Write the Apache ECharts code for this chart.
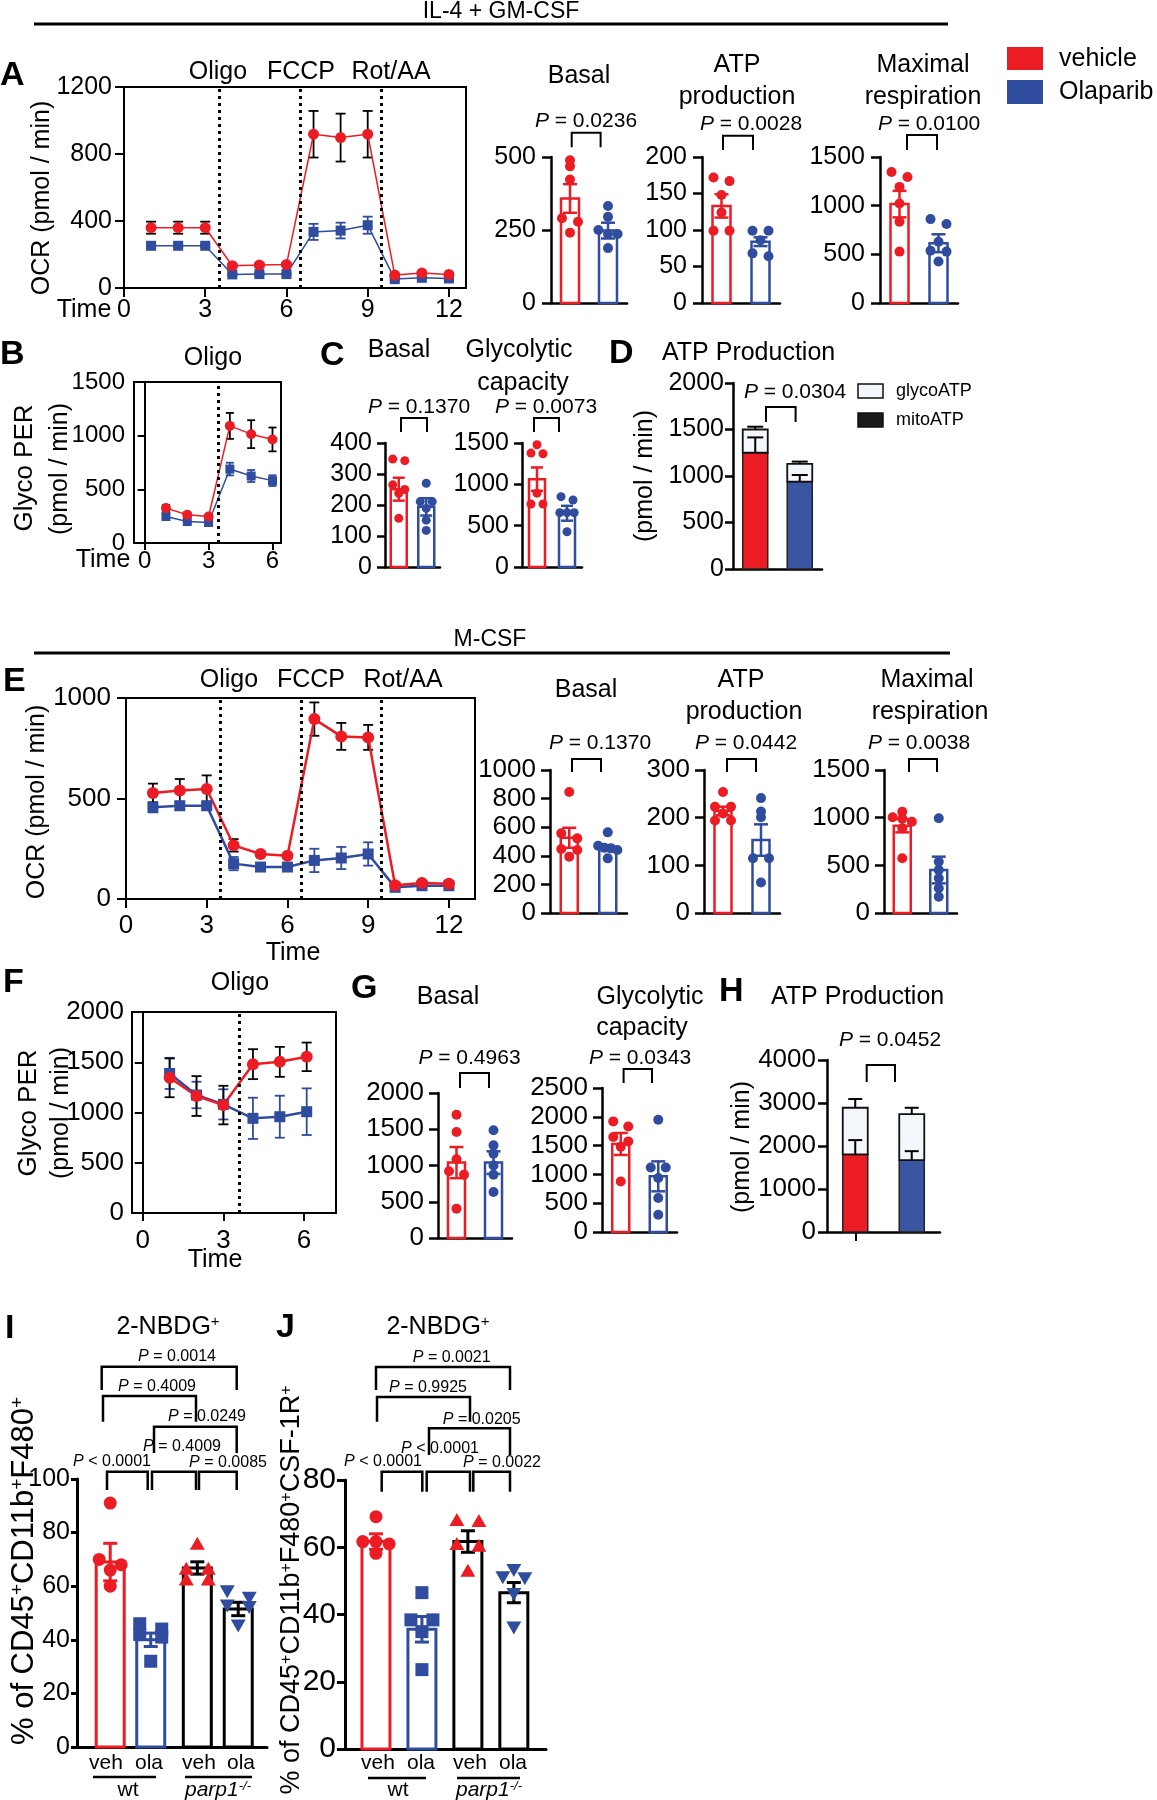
<!DOCTYPE html>
<html><head><meta charset="utf-8">
<script src="https://cdn.jsdelivr.net/npm/echarts@6/dist/echarts.min.js"></script>
<style>html,body{margin:0;padding:0;background:#fff}#c{width:1157px;height:1800px}</style>
</head><body><div id="c"></div>
<script>
// ================= DATA =================
const CATS = ['vehicle', 'Olaparib'];
// A: OCR, IL-4 + GM-CSF
const timeA = [1,2,3,4,5,6,7,8,9,10,11,12];
const ocrA_veh = [360,360,360,133,137,140,918,898,918,77,89,81];
const ocrA_veh_sem = [36,36,36,10,10,10,139,143,139,8,8,8];
const ocrA_ola = [252,252,252,81,83,83,335,343,375,53,61,57];
const ocrA_ola_sem = [8,8,8,6,6,6,48,47,51,6,6,6];
const basalA_veh = [489,468,423,290,278,241];
const basalA_ola = [332,295,250,236,236,188];
const basalA_mean = [358,248], basalA_sem = [49,27];
const atpA_veh = [172,167,148,124,99,99];
const atpA_ola = [99,99,86,68,64];
const atpA_mean = [133,84], atpA_sem = [16,6];
const maxA_veh = [1346,1295,1193,1023,835,528];
const maxA_ola = [862,811,630,538,528,426];
const maxA_mean = [1016,614], maxA_sem = [136,92];
// B: glyco PER
const timeB = [1,2,3,4,5,6];
const perB_veh = [325,263,247,1091,1014,965];
const perB_veh_sem = [30,21,10,121,130,111];
const perB_ola = [247,200,191,689,624,581];
const perB_ola_sem = [15,10,10,59,56,50];
// C
const basalC_veh = [348,343,265,250,238,157];
const basalC_ola = [270,211,211,189,151,118];
const basalC_mean = [251,194], basalC_sem = [37,28];
const glycC_veh = [1479,1378,1370,893,762,762];
const glycC_ola = [851,811,657,657,657,426];
const glycC_mean = [1063,650], glycC_sem = [141,90];
// D: ATP production (stacked)
const atpD_mito = [1250,939], atpD_mito_sem = [165,72];
const atpD_glyco = [250,191], atpD_total_sem = [30,25];
// E: OCR, M-CSF
const timeE = [1,2,3,4,5,6,7,8,9,10,11,12];
const ocrE_veh = [527,540,547,267,224,215,895,809,804,68,80,76];
const ocrE_veh_sem = [47,57,68,31,12,10,83,67,62,6,6,6];
const ocrE_ola = [456,464,464,176,159,159,192,204,224,58,66,66];
const ocrE_ola_sem = [25,20,20,33,15,15,58,55,58,6,6,6];
const basalE_veh = [846,557,522,447,440,394];
const basalE_ola = [564,470,456,452,440,382];
const basalE_mean = [526,452], basalE_sem = [70,18];
const atpE_veh = [254,223,223,209,194,194];
const atpE_ola = [241,213,201,115,115,64];
const atpE_mean = [214,153], atpE_sem = [9,33];
const maxE_veh = [1063,1004,990,958,888,574];
const maxE_ola = [993,538,450,364,259,171];
const maxE_mean = [916,451], maxE_sem = [70,140];
// F
const timeF = [1,2,3,4.1,5.1,6.1];
const perF_veh = [1345,1164,1074,1481,1504,1554];
const perF_veh_sem = [193,198,192,149,149,142];
const perF_ola = [1389,1174,1081,942,958,1008];
const perF_ola_sem = [155,132,150,205,209,232];
// G
const basalG_veh = [1701,1462,1085,920,874,405];
const basalG_ola = [1485,1278,1164,1000,874,634];
const basalG_mean = [1040,1040], basalG_sem = [215,156];
const glycG_veh = [1920,1833,1650,1573,1480,878];
const glycG_ola = [1950,1121,1121,938,590,300];
const glycG_mean = [1528,966], glycG_sem = [191,260];
// H
const atpH_mito = [1803,1671], atpH_mito_sem = [334,209];
const atpH_glyco = [1086,1071], atpH_total_sem = [203,147];
// I: 2-NBDG+ % of CD45+CD11b+F480+
const groupsIJ = ['veh','ola','veh','ola'];
const nbdgI_wt_veh = [91,70,68,66,60];
const nbdgI_wt_ola = [46,44,42,41,32];
const nbdgI_ko_veh = [75.5,66.2,66.2,62.2,62.2];
const nbdgI_ko_ola = [58.4,56,53.1,52.5,45.6];
const nbdgI_mean = [69,40,66.8,51.5], nbdgI_sem = [7,2.5,2.3,2.5];
// J: 2-NBDG+ % of CD45+CD11b+F480+CSF-1R+
const nbdgJ_wt_veh = [69.1,61.7,61.7,61,58.2];
const nbdgJ_wt_ola = [46.5,38.4,38.4,34.9,23.6];
const nbdgJ_ko_veh = [67.9,67.6,60.7,60.2,52.8];
const nbdgJ_ko_ola = [53.5,51.3,51,46.3,36.4];
const nbdgJ_mean = [61.7,35.6,61.7,46.5], nbdgJ_sem = [2.3,3.8,3.2,3];

// ================= STYLE / HELPERS =================
const FONT = '"Liberation Sans", Arial, Helvetica, sans-serif';
const RED = '#ec1c24', BLUE = '#2f4c9e', BLUEF = '#3a56a2', GLY = '#f3f6fa';
const grids = [], xAxes = [], yAxes = [], series = [], graphics = [];
const plain = v => String(v);

function addGrid(l,t,w,h,box){
  grids.push({left:l,top:t,width:w,height:h,show:!!box,borderColor:'#000',borderWidth:box?2:0,backgroundColor:'rgba(0,0,0,0)'});
  return grids.length-1;
}
function yAx(g,max,int,fs,margin,lw,tl){
  return {gridIndex:g,type:'value',min:0,max:max,interval:int,
    axisLine:{show:true,lineStyle:{color:'#000',width:lw}},
    axisTick:{show:true,length:tl,lineStyle:{color:'#000',width:lw}},
    axisLabel:{color:'#000',fontSize:fs,fontFamily:FONT,margin:margin,formatter:plain},
    splitLine:{show:false}};
}
function errSeries(g,xs,m,s,color,cap,lw,both,z){
  return {type:'custom',xAxisIndex:g,yAxisIndex:g,z:z,silent:true,
    data:xs.map((x,i)=>[x,m[i],s[i]]),
    renderItem(p,api){
      const x=api.value(0),y=api.value(1),e=api.value(2);
      const t=api.coord([x,y+e]), b=api.coord([x,both?y-e:y]);
      const st={stroke:color,lineWidth:lw};
      const ch=[{type:'line',shape:{x1:t[0],y1:t[1],x2:b[0],y2:b[1]},style:st},
                {type:'line',shape:{x1:t[0]-cap,y1:t[1],x2:t[0]+cap,y2:t[1]},style:st}];
      if(both) ch.push({type:'line',shape:{x1:b[0]-cap,y1:b[1],x2:b[0]+cap,y2:b[1]},style:st});
      return {type:'group',children:ch};
    }};
}
function rectSeries(g,x,lo,hi,w,fill,stroke,lw,z){
  return {type:'custom',xAxisIndex:g,yAxisIndex:g,z:z,silent:true,data:[[x,lo,hi]],
    renderItem(p,api){
      const a=api.coord([api.value(0),api.value(1)]), b=api.coord([api.value(0),api.value(2)]);
      return {type:'rect',shape:{x:a[0]-w/2,y:b[1],width:w,height:a[1]-b[1]},style:{fill:fill,stroke:stroke,lineWidth:lw}};
    }};
}
function swarm(vals,d,spread,ppu){
  const idx=vals.map((v,i)=>i).sort((a,b)=>vals[b]-vals[a]);
  const out=new Array(vals.length).fill(0);
  let row=[],rowY=null;
  const flush=()=>{const n=row.length; if(!n) return; const step=n>1?Math.min(spread,spread*1.2/(n-1)):0;
    row.forEach((k,j)=>{out[k]=(j-(n-1)/2)*step;}); row=[];};
  idx.forEach(k=>{const y=vals[k]*ppu; if(rowY===null||rowY-y>0.55*d){flush();rowY=y;} row.push(k);});
  flush();
  return out;
}
function marker(shape,x,y,d,color){
  const r=d/2;
  if(shape==='circle') return {type:'circle',shape:{cx:x,cy:y,r:r},style:{fill:color}};
  if(shape==='square') return {type:'rect',shape:{x:x-r,y:y-r,width:d,height:d},style:{fill:color}};
  if(shape==='up') return {type:'polygon',shape:{points:[[x,y-r*1.2],[x+r*1.15,y+r*0.8],[x-r*1.15,y+r*0.8]]},style:{fill:color}};
  return {type:'polygon',shape:{points:[[x,y+r*1.2],[x+r*1.15,y-r*0.8],[x-r*1.15,y-r*0.8]]},style:{fill:color}};
}
function pointsSeries(g,x,vals,color,shape,d,spread,ppu){
  const jit=swarm(vals,d,spread,ppu);
  return {type:'custom',xAxisIndex:g,yAxisIndex:g,z:5,silent:true,
    data:vals.map((v,i)=>[x,v,jit[i]]),
    renderItem(p,api){const c=api.coord([api.value(0),api.value(1)]); return marker(shape,c[0]+api.value(2),c[1],d,color);}};
}
function linePanel(o){
  const g=addGrid(o.l,o.t,o.w,o.h,true);
  xAxes.push({gridIndex:g,type:'value',min:o.xMin,max:o.xMax,
    axisLine:{show:true,onZero:false,lineStyle:{color:'#000',width:2}},
    axisTick:{show:true,customValues:o.xTicks,length:o.tl,lineStyle:{color:'#000',width:2}},
    axisLabel:{show:true,customValues:o.xTicks,color:'#000',fontSize:o.fs,fontFamily:FONT,margin:o.xm,formatter:plain},
    splitLine:{show:false}});
  yAxes.push(yAx(g,o.yMax,o.yInt,o.fs,o.ym,2,o.tl));
  series.push(errSeries(g,o.times,o.ola,o.olaSem,BLUE,o.cap,1.8,true,2));
  series.push(errSeries(g,o.times,o.veh,o.vehSem,'#000',o.cap,1.8,true,2));
  series.push({type:'line',xAxisIndex:g,yAxisIndex:g,z:3,silent:true,
    data:o.times.map((t,i)=>[t,o.ola[i]]),symbol:'rect',symbolSize:o.ms,showAllSymbol:true,
    itemStyle:{color:BLUE},lineStyle:{color:BLUE,width:o.lw},
    markLine:{silent:true,symbol:['none','none'],label:{show:false},
      lineStyle:{color:'#000',width:3,type:[3,4]},data:o.inj.map(v=>({xAxis:v}))}});
  series.push({type:'line',xAxisIndex:g,yAxisIndex:g,z:3,silent:true,
    data:o.times.map((t,i)=>[t,o.veh[i]]),symbol:'circle',symbolSize:o.ms+1,showAllSymbol:true,
    itemStyle:{color:RED},lineStyle:{color:RED,width:o.lw}});
}
function barPanel(o){
  const g=addGrid(o.l,o.t,o.w,o.h,false);
  const isVal=!!o.pos;
  xAxes.push(isVal?{gridIndex:g,type:'value',min:o.xMin,max:o.xMax,
      axisLine:{show:true,onZero:false,lineStyle:{color:'#000',width:o.alw}},axisTick:{show:false},axisLabel:{show:false},splitLine:{show:false}}
    :{gridIndex:g,type:'category',data:o.cats,boundaryGap:true,
      axisLine:{show:true,lineStyle:{color:'#000',width:o.alw}},axisTick:{show:false},axisLabel:{show:false},splitLine:{show:false}});
  yAxes.push(yAx(g,o.yMax,o.yInt,o.fs,o.ym,o.alw,o.tl));
  const ppu=o.h/o.yMax;
  o.groups.forEach((gr,i)=>{
    const x=isVal?o.pos[i]:i;
    series.push(rectSeries(g,x,0,gr.mean,o.bw,'#fff',gr.color,o.blw,1));
    series.push(errSeries(g,[x],[gr.mean],[gr.sem],gr.color,o.cap,o.blw,true,4));
    series.push(pointsSeries(g,x,gr.vals,gr.pc||gr.color,gr.shape,o.d,o.spread,ppu));
  });
}
function stackPanel(o){
  const g=addGrid(o.l,o.t,o.w,o.h,false);
  xAxes.push({gridIndex:g,type:'category',data:CATS,boundaryGap:true,
    axisLine:{show:true,lineStyle:{color:'#000',width:2.5}},
    axisTick:{show:!!o.xTick,alignWithLabel:true,length:9,lineStyle:{color:'#000',width:2}},
    axisLabel:{show:false},splitLine:{show:false}});
  yAxes.push(yAx(g,o.yMax,o.yInt,o.fs,o.ym,2.5,o.tl));
  const cols=[RED,BLUEF];
  for(let i=0;i<2;i++){
    const tot=o.mito[i]+o.glyco[i];
    series.push(rectSeries(g,i,0,o.mito[i],o.bw,cols[i],'#222',1.5,1));
    series.push(rectSeries(g,i,o.mito[i],tot,o.bw,GLY,'#111',1.8,1));
    series.push(errSeries(g,[i],[o.mito[i]],[o.mitoSem[i]],'#000',o.cap,2,false,4));
    series.push(errSeries(g,[i],[tot],[o.totSem[i]],'#000',o.cap,2,false,4));
  }
}
function pair(veh,ola,mean,sem){
  return [{vals:veh,mean:mean[0],sem:sem[0],color:RED,shape:'circle'},
          {vals:ola,mean:mean[1],sem:sem[1],color:BLUE,shape:'circle'}];
}
// ---- graphic helpers
function sup(sz){ return {fontSize:sz,verticalAlign:'top',fill:'#000',fontFamily:FONT}; }
function txt(x,y,text,size,opt){
  opt=opt||{};
  graphics.push({type:'text',x:x,y:y,rotation:opt.rot||0,z:100,silent:true,
    style:{text:text,fill:'#000',fontSize:size,fontFamily:FONT,fontWeight:opt.bold?'bold':'normal',
      fontStyle:opt.italic?'italic':'normal',align:opt.align||'center',verticalAlign:'middle',
      rich:opt.rich}});
}
function rtxt(x,y,text,size){ txt(x,y,text,size,{rot:Math.PI/2,rich:{s:sup(Math.round(size*0.6))}}); }
function letter(x,y,t){ txt(x,y,t,34,{bold:true,align:'left'}); }
function pval(x,y,s,size){
  txt(x,y,'{it|P} '+s,size,{rich:{it:{fontStyle:'italic',fontSize:size,fontFamily:FONT,fill:'#000'}}});
}
function bracket(x1,x2,yt,yb,lw){
  graphics.push({type:'polyline',silent:true,z:100,shape:{points:[[x1,yb],[x1,yt],[x2,yt],[x2,yb]]},
    style:{stroke:'#000',lineWidth:lw||2,fill:null}});
}
function hline(x1,x2,y,lw){
  graphics.push({type:'line',silent:true,z:100,shape:{x1:x1,y1:y,x2:x2,y2:y},style:{stroke:'#000',lineWidth:lw}});
}
function box(x,y,w,h,fill,stroke){
  graphics.push({type:'rect',silent:true,z:100,shape:{x:x,y:y,width:w,height:h},style:{fill:fill,stroke:stroke||null,lineWidth:1.5}});
}

// ================= PANELS =================
// A
linePanel({l:124,t:87,w:342,h:201,xMin:0,xMax:12.63,xTicks:[0,3,6,9,12],yMax:1200,yInt:400,fs:25,xm:10,ym:12,tl:9,
  times:timeA,veh:ocrA_veh,vehSem:ocrA_veh_sem,ola:ocrA_ola,olaSem:ocrA_ola_sem,inj:[3.5,6.5,9.5],lw:1.5,ms:10,cap:5});
const Abar={t:157,h:146,fs:25,ym:15,tl:9,alw:2.5,blw:2.5,bw:18,d:10,spread:16,cap:7,cats:CATS};
barPanel(Object.assign({},Abar,{l:551,w:76,yMax:500,yInt:250,groups:pair(basalA_veh,basalA_ola,basalA_mean,basalA_sem)}));
barPanel(Object.assign({},Abar,{l:702,w:78,yMax:200,yInt:50,groups:pair(atpA_veh,atpA_ola,atpA_mean,atpA_sem)}));
barPanel(Object.assign({},Abar,{l:880,w:78,yMax:1500,yInt:500,groups:pair(maxA_veh,maxA_ola,maxA_mean,maxA_sem)}));
// B
linePanel({l:134,t:382,w:147,h:161,xMin:-0.5,xMax:6.4,xTicks:[0,3,6],yMax:1500,yInt:500,fs:24,xm:6,ym:9,tl:7,
  times:timeB,veh:perB_veh,vehSem:perB_veh_sem,ola:perB_ola,olaSem:perB_ola_sem,inj:[3.45],lw:1.5,ms:9,cap:4});
// C
const Cbar={t:443,h:124,fs:25,ym:13,tl:8,alw:2.5,blw:2.5,bw:16,d:9,spread:12,cap:6,cats:CATS};
barPanel(Object.assign({},Cbar,{l:385,w:55,yMax:400,yInt:100,groups:pair(basalC_veh,basalC_ola,basalC_mean,basalC_sem)}));
barPanel(Object.assign({},Cbar,{l:522,w:60,yMax:1500,yInt:500,groups:pair(glycC_veh,glycC_ola,glycC_mean,glycC_sem)}));
// D
stackPanel({l:733,t:383,w:89,h:186,yMax:2000,yInt:500,fs:25,ym:9,tl:8,bw:25,cap:8,
  mito:atpD_mito,mitoSem:atpD_mito_sem,glyco:atpD_glyco,totSem:atpD_total_sem});
// E
linePanel({l:126,t:698,w:349,h:201,xMin:0,xMax:12.97,xTicks:[0,3,6,9,12],yMax:1000,yInt:500,fs:26,xm:14,ym:15,tl:9,
  times:timeE,veh:ocrE_veh,vehSem:ocrE_veh_sem,ola:ocrE_ola,olaSem:ocrE_ola_sem,inj:[3.5,6.5,9.5],lw:2.5,ms:11,cap:5});
const Ebar={t:770,h:143,fs:26,ym:14,tl:9,alw:2.5,blw:2.5,bw:17,d:10,spread:16,cap:7,cats:CATS};
barPanel(Object.assign({},Ebar,{l:550,w:77,yMax:1000,yInt:200,groups:pair(basalE_veh,basalE_ola,basalE_mean,basalE_sem)}));
barPanel(Object.assign({},Ebar,{l:704,w:76,yMax:300,yInt:100,groups:pair(atpE_veh,atpE_ola,atpE_mean,atpE_sem)}));
barPanel(Object.assign({},Ebar,{l:884,w:73,yMax:1500,yInt:500,groups:pair(maxE_veh,maxE_ola,maxE_mean,maxE_sem)}));
// F
linePanel({l:132,t:1012,w:204,h:201,xMin:-0.4,xMax:7.19,xTicks:[0,3,6],yMax:2000,yInt:500,fs:26,xm:15,ym:8,tl:8,
  times:timeF,veh:perF_veh,vehSem:perF_veh_sem,ola:perF_ola,olaSem:perF_ola_sem,inj:[3.6],lw:2.5,ms:11,cap:5});
// G
const Gbar={fs:26,ym:14,tl:9,alw:2.5,blw:2.5,bw:17,d:10,spread:15,cap:7,cats:CATS};
barPanel(Object.assign({},Gbar,{l:438,t:1093,w:74,h:145,yMax:2000,yInt:500,groups:pair(basalG_veh,basalG_ola,basalG_mean,basalG_sem)}));
barPanel(Object.assign({},Gbar,{l:602,t:1088,w:75,h:144,yMax:2500,yInt:500,groups:pair(glycG_veh,glycG_ola,glycG_mean,glycG_sem)}));
// H
stackPanel({l:827,t:1060,w:113,h:172,yMax:4000,yInt:1000,fs:26,ym:11,tl:9,bw:25,cap:7,xTick:true,
  mito:atpH_mito,mitoSem:atpH_mito_sem,glyco:atpH_glyco,totSem:atpH_total_sem});
// I
const IJcols=[RED,BLUE,'#000','#000'], IJpts=[RED,BLUE,RED,BLUE], IJshape=['circle','square','up','down'];
function ijGroups(vals,mean,sem){return vals.map((v,i)=>({vals:v,mean:mean[i],sem:sem[i],color:IJcols[i],pc:IJpts[i],shape:IJshape[i]}));}
barPanel({l:77,t:1479,w:190,h:268,yMax:100,yInt:20,fs:25,ym:7,tl:6,alw:3,blw:3,bw:28,d:13,spread:22,cap:7,
  xMin:0.18,xMax:4.87,pos:[1,2,3.15,4.16],
  groups:ijGroups([nbdgI_wt_veh,nbdgI_wt_ola,nbdgI_ko_veh,nbdgI_ko_ola],nbdgI_mean,nbdgI_sem)});
// J
barPanel({l:345,t:1480,w:201,h:269,yMax:80,yInt:20,fs:30,ym:9,tl:8,alw:3,blw:3,bw:28,d:13,spread:22,cap:7,
  xMin:0.326,xMax:4.70,pos:[1,2,3,4],
  groups:ijGroups([nbdgJ_wt_veh,nbdgJ_wt_ola,nbdgJ_ko_veh,nbdgJ_ko_ola],nbdgJ_mean,nbdgJ_sem)});

// ================= TEXT / ANNOTATIONS =================
txt(501,12,'IL-4 + GM-CSF',23); hline(34,948,24,3);
txt(490,640,'M-CSF',23); hline(34,950,653,3);
letter(0,76,'A'); letter(0,355,'B'); letter(320,356,'C'); letter(609,354,'D');
letter(3,682,'E'); letter(3,983,'F'); letter(351,989,'G'); letter(719,992,'H');
letter(5,1329,'I'); letter(276,1328,'J');
// A
txt(218,72,'Oligo',25); txt(301,72,'FCCP',25); txt(391,72,'Rot/AA',25);
rtxt(42,198,'OCR (pmol / min)',25); txt(84,310,'Time',25);
txt(579,76,'Basal',25); txt(737,65,'ATP',25); txt(737,97,'production',25);
txt(923,65,'Maximal',25); txt(923,97,'respiration',25);
pval(586,121,'= 0.0236',21); pval(751,124,'= 0.0028',21); pval(929,124,'= 0.0100',21);
bracket(571.7,600.6,132.7,147.3); bracket(723,753,135.7,150); bracket(907,937,135,150);
box(1007,47,36,23,RED); box(1007,80,36,24,BLUE);
txt(1059,59,'vehicle',25,{align:'left'}); txt(1059,92,'Olaparib',25,{align:'left'});
// B
txt(213,358,'Oligo',25); rtxt(25,468,'Glyco PER',26); rtxt(60,469,'(pmol / min)',25); txt(103,560,'Time',25);
// C
txt(399,350,'Basal',25); txt(519,350,'Glycolytic',25); txt(523,383,'capacity',25);
pval(419,407,'= 0.1370',21); pval(546,407,'= 0.0073',21);
bracket(401,427,418,432); bracket(534,559,418,432);
// D
txt(662,353,'ATP Production',25,{align:'left'}); pval(795,392,'= 0.0304',21); bracket(766,795.6,407,422);
rtxt(645,476,'(pmol / min)',25);
box(858,384,25,14,GLY,'#111'); box(858,413,25,14,'#1a1a1a','#111');
txt(896,391,'glycoATP',18,{align:'left'}); txt(896,420,'mitoATP',18,{align:'left'});
// E
txt(229,680,'Oligo',25); txt(311,680,'FCCP',25); txt(403,680,'Rot/AA',25);
rtxt(37,802,'OCR (pmol / min)',25); txt(293,953,'Time',25);
txt(586,690,'Basal',25); txt(741,680,'ATP',25); txt(744,712,'production',25);
txt(927,680,'Maximal',25); txt(930,712,'respiration',25);
pval(600,743,'= 0.1370',21); pval(746,743,'= 0.0442',21); pval(919,743,'= 0.0038',21);
bracket(572,601,759,772); bracket(727,756,759,772); bracket(909,937,759,772);
// F
txt(240,983,'Oligo',25); rtxt(29,1113,'Glyco PER',26); rtxt(61,1113,'(pmol / min)',25); txt(215,1260,'Time',25);
// G
txt(448,997,'Basal',25); txt(650,997,'Glycolytic',25); txt(642,1028,'capacity',25);
pval(469.5,1058,'= 0.4963',21); pval(640,1058,'= 0.0343',21);
bracket(460,489,1073,1088); bracket(623.6,652,1069,1083);
// H
txt(771,997,'ATP Production',25,{align:'left'}); pval(890,1040,'= 0.0452',21); bracket(866.7,895,1065,1082);
rtxt(742,1147,'(pmol / min)',25);
// I
txt(168,1327,'2-NBDG{s|+}',25,{rich:{s:sup(15)}});
rtxt(24,1571,'% of CD45{s|+}CD11b{s|+}F480{s|+}',31);
pval(177,1357,'= 0.0014',16); bracket(101.7,236.7,1366.7,1390,2.5);
pval(157,1387,'= 0.4009',16); bracket(103,196,1396,1421.7,2.5);
pval(207,1417,'= 0.0249',16); bracket(154,236.7,1426.7,1453,2.5);
pval(182,1447,'= 0.4009',16); bracket(152,196,1471.7,1490,2.5);
pval(112,1462,'< 0.0001',16); bracket(107,147.7,1471.7,1490,2.5);
pval(228,1463,'= 0.0085',16); bracket(199,236.7,1471.7,1490,2.5);
const PARP = '{i|parp1}{s|-/-}';
const PR = {i:{fontStyle:'italic',fontSize:21,fontFamily:FONT,fill:'#000'},s:{fontStyle:'italic',fontSize:13,verticalAlign:'top',fontFamily:FONT,fill:'#000'}};
[[106,0],[149,1],[199,2],[241,3]].forEach(a=>txt(a[0],1763,groupsIJ[a[1]],21));
hline(93,156,1777,2.5); hline(185,252,1777,2.5);
txt(128,1790,'wt',21); txt(218,1790,PARP,21,{rich:PR});
// J
txt(438,1327,'2-NBDG{s|+}',25,{rich:{s:sup(15)}});
rtxt(292,1590,'% of CD45{s|+}CD11b{s|+}F480{s|+}CSF-1R{s|+}',27);
pval(451.7,1358,'= 0.0021',16); bracket(376,510,1367,1390,2.5);
pval(428,1388,'= 0.9925',16); bracket(377,470,1397,1421.7,2.5);
pval(481.7,1420,'= 0.0205',16); bracket(429,510,1428.3,1455,2.5);
pval(440,1449,'< 0.0001',16); bracket(426.7,470,1471.7,1491.7,2.5);
pval(383,1462,'< 0.0001',16); bracket(381.7,422.3,1471.7,1491.7,2.5);
pval(502,1463,'= 0.0022',16); bracket(473.3,510,1471.7,1491.7,2.5);
[[378,0],[421,1],[470,2],[513,3]].forEach(a=>txt(a[0],1763,groupsIJ[a[1]],21));
hline(368,426,1778,2.5); hline(457,520,1778,2.5);
txt(398,1790,'wt',21); txt(489,1790,PARP,21,{rich:PR});

const chart = echarts.init(document.getElementById('c'), null, {renderer:'canvas'});
chart.setOption({animation:false,backgroundColor:'#fff',grid:grids,xAxis:xAxes,yAxis:yAxes,series:series,graphic:graphics});
</script></body></html>
